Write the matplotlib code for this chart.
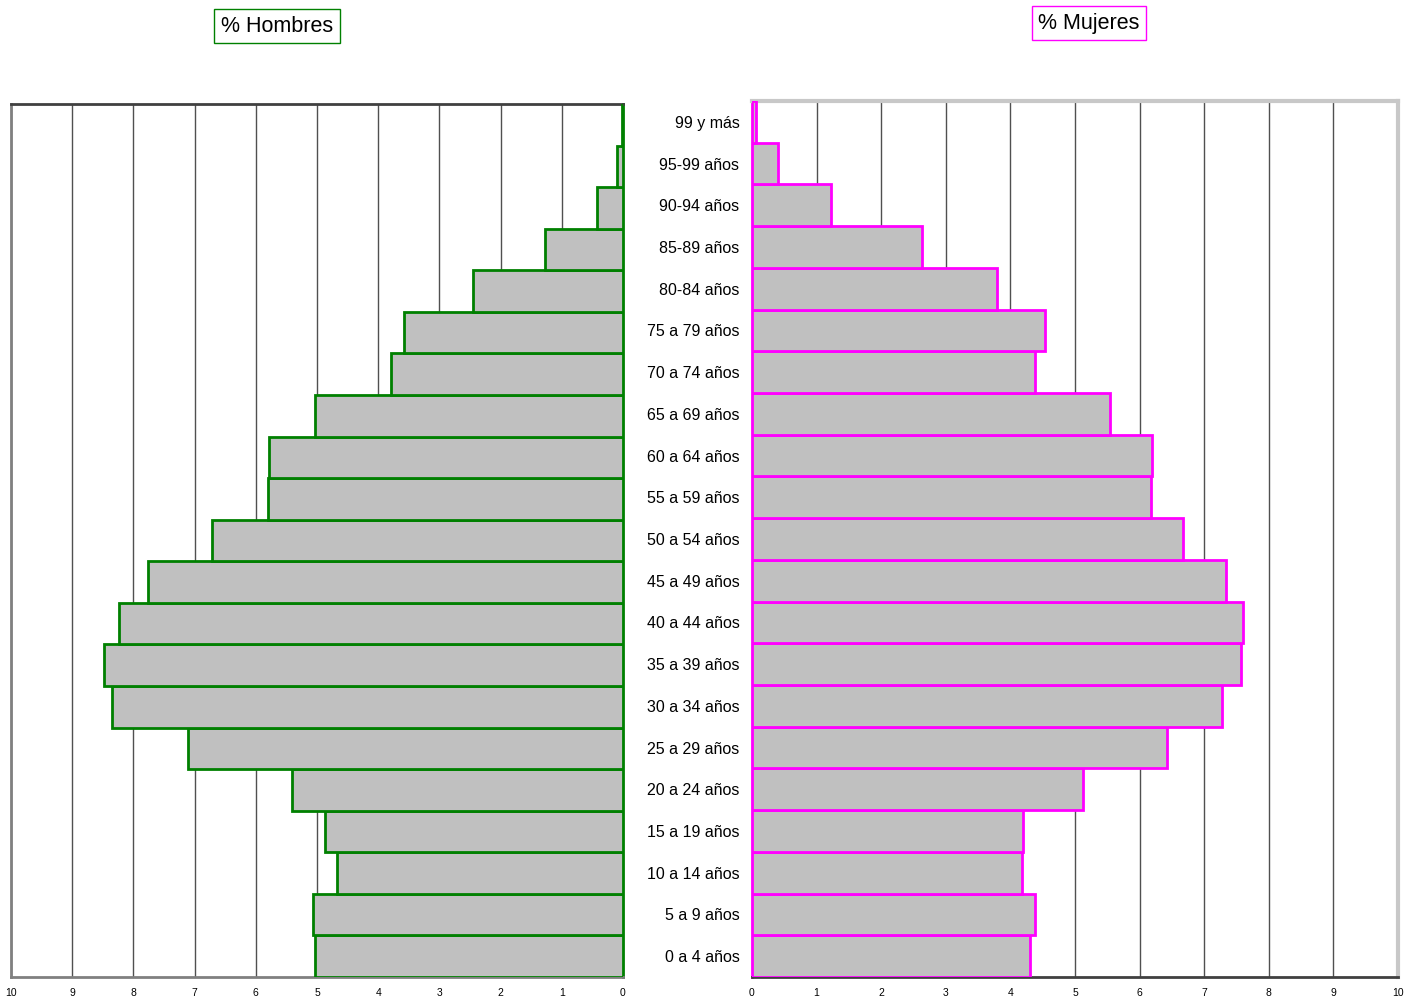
import matplotlib
matplotlib.use('Agg')
import matplotlib.pyplot as plt
import numpy as np

plt.rcParams['font.family'] = ['Liberation Sans', 'DejaVu Sans']

# Age groups, bottom to top
grupos = ['0 a 4 años', '5 a 9 años', '10 a 14 años', '15 a 19 años', '20 a 24 años',
          '25 a 29 años', '30 a 34 años', '35 a 39 años', '40 a 44 años', '45 a 49 años',
          '50 a 54 años', '55 a 59 años', '60 a 64 años', '65 a 69 años', '70 a 74 años',
          '75 a 79 años', '80-84 años', '85-89 años', '90-94 años', '95-99 años', '99 y más']

hombres = [5.03, 5.07, 4.67, 4.87, 5.41, 7.11, 8.35, 8.48, 8.24, 7.76,
           6.72, 5.80, 5.78, 5.03, 3.79, 3.58, 2.45, 1.27, 0.42, 0.10, 0.01]
mujeres = [4.30, 4.38, 4.18, 4.20, 5.12, 6.42, 7.28, 7.57, 7.60, 7.34,
           6.67, 6.18, 6.19, 5.54, 4.38, 4.54, 3.79, 2.63, 1.22, 0.40, 0.06]

ticks = list(range(0, 11))

fig = plt.figure(figsize=(14.18, 10), dpi=100)
ax_h = fig.add_axes([11 / 1418, 0.023, 612 / 1418, 0.873])
ax_m = fig.add_axes([752 / 1418, 0.023, 646 / 1418, 0.876])

y = np.arange(len(grupos))

for ax, vals, edge in [(ax_h, hombres, '#008000'), (ax_m, mujeres, '#ff00ff')]:
    ax.barh(y, vals, height=1.0, color='#c0c0c0', edgecolor=edge, linewidth=2, zorder=3)
    ax.set_ylim(-0.5, len(grupos) - 0.5)
    ax.set_xticks(ticks)
    ax.set_xticklabels([str(t) for t in ticks], fontsize=7.5)
    ax.tick_params(axis='x', length=0, pad=8)
    ax.grid(axis='x', color='#505050', linewidth=1, zorder=0)
    ax.set_axisbelow(True)

ax_h.set_xlim(10, 0)
ax_h.set_yticks([])
ax_h.spines['left'].set_color('#808080')
ax_h.spines['left'].set_linewidth(2)
ax_h.spines['bottom'].set_color('#808080')
ax_h.spines['bottom'].set_linewidth(2)
ax_h.spines['top'].set_color('#404040')
ax_h.spines['top'].set_linewidth(2)
ax_h.spines['right'].set_color('#008000')
ax_h.spines['right'].set_linewidth(2)

ax_m.set_xlim(0, 10)
ax_m.set_yticks(y)
ax_m.set_yticklabels(grupos, fontsize=11.5)
ax_m.tick_params(axis='y', length=0, pad=9)
ax_m.spines['top'].set_color('#c8c8c8')
ax_m.spines['top'].set_linewidth(3)
ax_m.spines['right'].set_color('#c8c8c8')
ax_m.spines['right'].set_linewidth(3)
ax_m.spines['bottom'].set_color('#404040')
ax_m.spines['bottom'].set_linewidth(2)
ax_m.spines['left'].set_color('#ff00ff')
ax_m.spines['left'].set_linewidth(2)

fig.text(277 / 1418, 1 - 26 / 1000, '% Hombres', fontsize=15.5, ha='center', va='center',
         bbox=dict(boxstyle='square,pad=0.3', facecolor='white', edgecolor='#008000', linewidth=1))
fig.text(1089 / 1418, 1 - 23 / 1000, '% Mujeres', fontsize=15.5, ha='center', va='center',
         bbox=dict(boxstyle='square,pad=0.3', facecolor='white', edgecolor='#ff00ff', linewidth=1))

fig.savefig('out.png', dpi=100)
